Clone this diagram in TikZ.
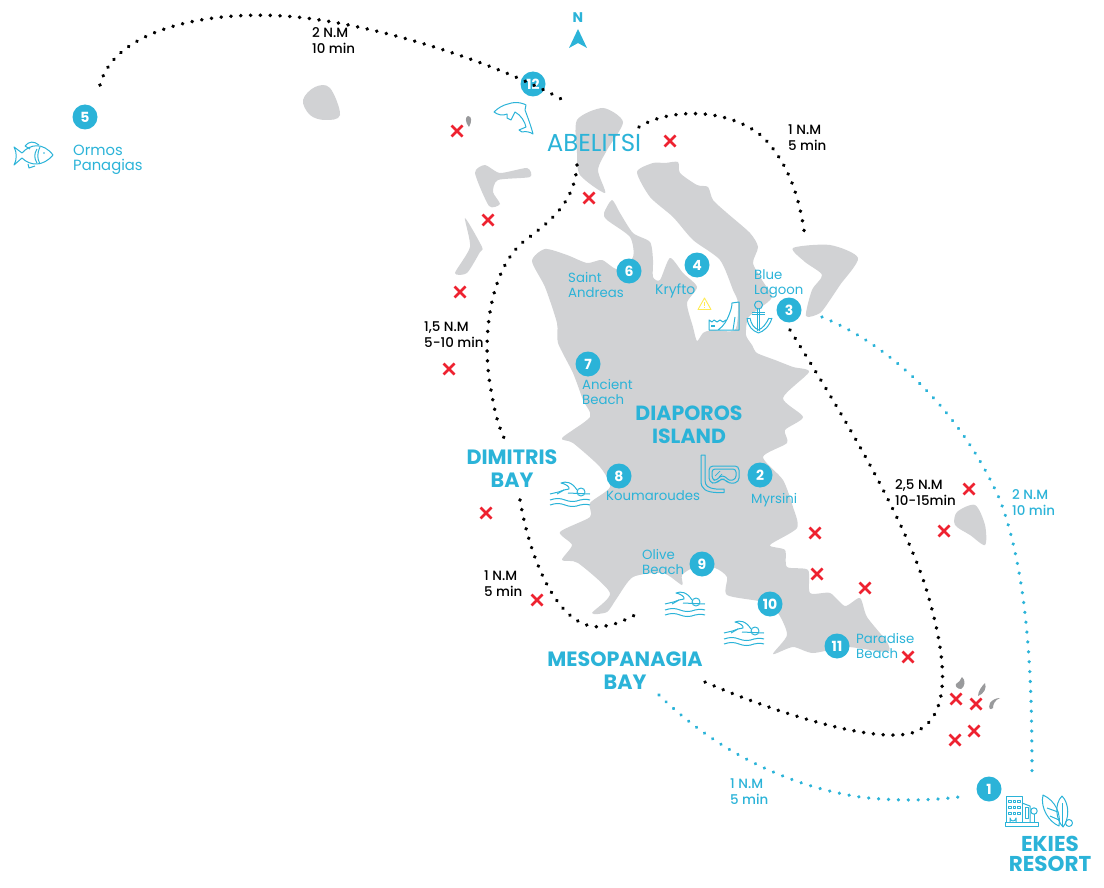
\documentclass[tikz,border=0pt]{standalone}
\usepackage{fontspec}
\setmainfont{Poppins}
\newfontfamily\medfont{Poppins Medium}
\usetikzlibrary{calc}
\definecolor{sea}{HTML}{2BB3D8}
\definecolor{land}{HTML}{D1D2D4}
\definecolor{rock}{HTML}{999A9C}
\definecolor{mark}{HTML}{EE2230}
\definecolor{warn}{HTML}{FFEB55}
\tikzset{
  landmass/.style={fill=land,draw=none},
  rockmass/.style={fill=rock,draw=none},
  routeblack/.style={draw=black,line width=3.9pt,line cap=round,dash pattern=on 0.01pt off 9.8pt},
  routeblue/.style={draw=sea,line width=3.6pt,line cap=round,dash pattern=on 0.01pt off 9.9pt},
  stop/.style={circle,fill=sea,minimum size=25pt,inner sep=0pt,text=white,font=\fontsize{14}{14}\selectfont\bfseries},
  place/.style={anchor=west,inner sep=0pt,align=left,text=sea,font=\fontsize{13.3}{14.3}\selectfont},
  dist/.style={anchor=west,inner sep=0pt,align=left,text=black,font=\medfont\fontsize{13.4}{16}\selectfont},
  distblue/.style={dist,text=sea},
  area/.style={anchor=center,inner sep=0pt,text=sea,font=\fontsize{20.7}{23}\selectfont\bfseries},
  ico/.style={draw=sea,line width=1pt,fill=none,line join=round},
  swimmericon/.pic={
    \draw[ico] (-20,-1) .. controls (-12,-3) and (-10,-3) .. (-6,-5) -- (-1,-6) .. controls (0,-8) and (-4,-11) .. (-9,-12) .. controls (-4,-14) and (2,-13) .. (7,-5);
    \draw[ico] (-6,-5) -- (-13,-1);
    \draw[ico] (11,-3) circle (4);
    \draw[ico] (-2,-2) -- (20,-1);
    \draw[ico] (-20,5) .. controls (-14,3) and (-10,3) .. (-5,5) .. controls (0,7) and (5,7) .. (10,5) .. controls (13,4) and (16,4) .. (20,5);
    \draw[ico] (-20,10) .. controls (-14,8) and (-10,8) .. (-5,10) .. controls (0,12) and (5,12) .. (10,10) .. controls (13,9) and (16,9) .. (20,10);
  },
  xmark/.pic={
    \draw[draw=mark,line width=2.8pt] (-5.5,-5.5) -- (5.5,5.5) (-5.5,5.5) -- (5.5,-5.5);
  }
}
\begin{document}
\begin{tikzpicture}[x=1pt,y=-1pt]
\useasboundingbox (0,0) rectangle (1104,888);
% --- main island ---
\fill[landmass] plot[smooth cycle,tension=0.42] coordinates {
(532,261)(545,249)(567,255)(587,263)(602,260)(617,269)(633,257)(630,237)(607,220)(604,213)(612,200)(620,213)(633,233)(650,242)(653,260)(653,277)(660,280)(670,258)(683,273)(697,287)(687,303)(693,327)(697,341)(703,333)(712,330)(735,330)(738,303)(733,290)(720,260)(693,240)(673,217)(650,197)(637,172)(653,163)(665,163)(678,162)(680,173)(697,185)(708,187)(713,200)(727,213)(750,233)(758,247)(753,263)(762,280)(772,297)(760,308)(748,318)(746,335)(752,345)(757,353)(775,360)(793,367)(809,372)(783,398)(803,417)(785,430)(787,443)(763,457)(783,480)(793,507)(797,528)(770,545)(785,550)(787,567)(808,570)(810,593)(830,593)(845,606)(860,598)(867,617)(887,642)(887,652)(847,647)(813,653)(793,647)(773,654)(787,635)(778,613)(763,602)(727,595)(727,577)(715,568)(695,567)(682,575)(682,585)(663,573)(633,577)(617,598)(607,612)(592,613)(610,593)(578,563)(562,560)(572,545)(560,532)(590,517)(590,503)(610,487)(600,467)(573,443)(562,438)(590,417)(583,400)(573,373)(558,343)(557,323)(545,287)};
% --- other islands ---
\fill[landmass] plot[smooth cycle,tension=0.45] coordinates {(577,120)(603,108)(623,122)(607,150)(598,170)(605,193)(580,175)(577,153)};
\fill[landmass] plot[smooth cycle,tension=0.4] coordinates {(475,173)(485,165)(500,173)(527,168)(530,177)(498,180)(493,192)(500,204)(489,206)};
\fill[landmass] plot[smooth cycle,tension=0.4] coordinates {(465,218)(482,247)(480,252)(467,273)(455,273)(470,247)};
\fill[landmass] plot[smooth cycle,tension=0.6] coordinates {(303,100)(315,87)(330,88)(340,115)(325,120)(310,115)};
\fill[landmass] plot[smooth cycle,tension=0.45] coordinates {(793,248)(830,245)(858,258)(840,285)(830,300)(820,313)(806,316)(812,290)(822,275)(805,262)};
\fill[landmass] plot[smooth cycle,tension=0.5] coordinates {(957,512)(975,505)(985,525)(985,545)(970,535)(955,525)};
% --- rocks ---
\fill[rockmass] (468,116) .. controls (472,116) and (472,122) .. (469,127) .. controls (465,122) and (465,117) .. (468,116) -- cycle;
\fill[rockmass] (962,677) .. controls (966,680) and (965,687) .. (961,689) .. controls (957,689) and (955,686) .. (956,684) .. controls (959,683) and (960,680) .. (962,677) -- cycle;
\fill[rockmass] (985,683) .. controls (987,688) and (984,694) .. (978,696) .. controls (978,691) and (982,686) .. (985,683) -- cycle;
\fill[rockmass] (1000,698) .. controls (995,700) and (993,704) .. (993,708) .. controls (990,711) and (988,708) .. (990,703) .. controls (992,700) and (996,698) .. (1000,698) -- cycle;
% --- route ends ---
\coordinate (r1a) at (100,85); \coordinate (r1b) at (563,100);
\coordinate (r2a) at (639,127); \coordinate (r2b) at (805,237);
\coordinate (r3a) at (577,165); \coordinate (r3b) at (505,440);
\coordinate (r4a) at (520,500); \coordinate (r4b) at (635,615);
\coordinate (r5a) at (790,330); \coordinate (r5b) at (705,682);
\coordinate (b1a) at (822,317); \coordinate (b1b) at (1032,777);
\coordinate (b2a) at (659,695); \coordinate (b2b) at (966,796);
% --- routes ---
\draw[routeblack] (r2a) .. controls (665,110) and (725,105) .. (763,137) .. controls (790,165) and (800,200) .. (r2b);
\draw[routeblack] (r3a) .. controls (575,205) and (545,225) .. (523,242) .. controls (490,270) and (480,340) .. (492,395) .. controls (495,415) and (500,430) .. (r3b);
\draw[routeblack] (r4a) .. controls (530,560) and (560,635) .. (605,626) .. controls (615,625) and (625,620) .. (r4b);
\draw[routeblack] (r5a) .. controls (840,410) and (900,510) .. (925,585) .. controls (945,650) and (955,715) .. (915,732) .. controls (880,745) and (780,715) .. (r5b);
\draw[routeblue] (b1a) .. controls (890,345) and (960,410) .. (1000,500) .. controls (1030,580) and (1032,690) .. (b1b);
\draw[routeblue] (b2a) .. controls (710,745) and (780,785) .. (860,797) .. controls (900,802) and (940,800) .. (b2b);
% --- stops ---
\node[stop] (s1) at (989,789) {1};
\node[stop] (s2) at (760,475) {2};
\node[stop] (s3) at (789,310) {3};
\node[stop] (s4) at (697,265) {4};
\node[stop] (s5) at (85,117) {5};
\node[stop] (s6) at (629,271) {6};
\node[stop] (s7) at (588,364) {7};
\node[stop] (s8) at (619,476) {8};
\node[stop] (s9) at (702,564) {9};
\node[stop] (s10) at (770,604) {10};
\node[stop] (s11) at (837,646) {11};
\node[stop] (s12) at (533,84) {12};
\draw[routeblack] (r1a) .. controls (115,25) and (225,5) .. (320,20) .. controls (400,32) and (500,65) .. (r1b);
% --- crosses ---
\foreach \px/\py in {457/131,670/141,589/198,488/220,460/292,449/369,486/513,537/600,815/533,817/574,865/588,908/657,969/489,944/531,956/699,976/704,974/731,955/740}
  \pic at (\px,\py) {xmark};
% --- labels ---
\node[place,font=\fontsize{14.8}{15}\selectfont] (lbO) at (73,159.5) {Ormos\\Panagias};
\node[place] (lbS) at (568,285) {Saint\\Andreas};
\node[place,font=\fontsize{14}{14}\selectfont] (lbK) at (655,291) {Kryfto};
\node[place] (lbB) at (754,284) {Blue\\Lagoon};
\node[place] (lbA) at (582,392) {Ancient\\Beach};
\node[place] (lbKo) at (606,496) {Koumaroudes};
\node[place] (lbM) at (751,500) {Myrsini};
\node[place] (lbOl) at (642,562) {Olive\\Beach};
\node[place] (lbP) at (856,646) {Paradise\\Beach};
\node[anchor=center,inner sep=0pt,text=sea,font=\fontsize{24.5}{25}\selectfont] (lbAb) at (594,143) {ABELITSI};
\node[area] (lbDi1) at (512,457) {DIMITRIS};
\node[area] (lbDi2) at (512,480) {BAY};
\node[area,align=center,font=\fontsize{20.5}{23}\selectfont\bfseries] (lbDia) at (689,424.5) {DIAPOROS\\ISLAND};
\node[area] (lbMe1) at (625,659) {MESOPANAGIA};
\node[area] (lbMe2) at (625,682) {BAY};
\node[area,align=center,font=\fontsize{21.5}{20}\selectfont\bfseries] (lbEk) at (1050,854) {EKIES\\RESORT};
\node[dist] (d1) at (312,41) {2 N.M\\10 min};
\node[dist] (d2) at (788,138) {1 N.M\\5 min};
\node[dist] (d3) at (424,335) {1,5 N.M\\5-10 min};
\node[dist] (d4) at (484,584) {1 N.M\\5 min};
\node[dist] (d5) at (895,492.5) {2,5 N.M\\10-15min};
\node[distblue] (d6) at (1012,503) {2 N.M\\10 min};
\node[distblue] (d7) at (730,792) {1 N.M\\5 min};
% --- north arrow ---
\node[anchor=center,inner sep=0pt,text=sea,font=\fontsize{14}{14}\selectfont\bfseries] (north) at (578,18) {N};
\fill[sea] (578,29) -- (587,48) -- (578,43) -- (569,48) -- cycle;
% --- swimmers ---
\pic at (570,495) {swimmericon};
\pic at (685,605) {swimmericon};
\pic at (744,634) {swimmericon};
% --- warning ---
\draw[draw=warn,line width=0.9pt,line join=round] (704.5,298) -- (711,309.5) -- (698,309.5) -- cycle;
\draw[draw=warn,line width=0.9pt] (704.5,302) -- (704.5,306) (704.5,307.3) -- (704.5,308);
% --- cliff ---
\draw[ico] (709,330) -- (739,330) -- (739,302) -- (732,303) .. controls (732,308) and (730,312) .. (729,315) .. controls (727,320) and (724,326) .. (718,330);
\draw[ico] (709,330) -- (709,320) -- (712,322) -- (714,320) -- (717,322) -- (720,320) -- (723,322) -- (726,320);
\draw[ico] (735,317) -- (733,330);
\draw[ico,line width=1.6pt] (711,326) -- (715,326);
% --- anchor ---
\draw[ico] (758.5,305) circle (4);
\draw[ico] (757.3,309) -- (757.3,331) (759.7,309) -- (759.7,331);
\draw[ico] (752,312) -- (765,312) (752,314) -- (765,314);
\draw[ico] (747,318) .. controls (748,327) and (753,331) .. (758.5,333) .. controls (764,331) and (769,327) .. (772,318);
\draw[ico] (750,318) .. controls (751,324) and (754,328) .. (758.5,330) .. controls (763,328) and (766,324) .. (769,318);
\draw[ico] (747,318) -- (750,318) (769,318) -- (772,318);
% --- snorkel ---
\draw[ico] (701,455) -- (705,455) -- (705,480) .. controls (705,486) and (708,488) .. (716,489);
\draw[ico] (701,455) -- (701,481) .. controls (701,489) and (706,492) .. (716,492.5) -- (724,492.5) -- (724,489) -- (716,489);
\draw[ico,rounded corners=4pt] (709,466) -- (739,466) -- (739,482) -- (729,484) -- (725,479) -- (720,479) -- (716,484) -- (709,482) -- cycle;
\draw[ico,rounded corners=3pt] (712,469) -- (736,469) -- (736,479) -- (729,481) -- (725,476) -- (720,476) -- (716,481) -- (712,479) -- cycle;
\draw[ico,line width=0.7pt] (715,476) -- (720,471) (719,477) -- (722,474);
% --- dolphin ---
\draw[ico] (494,112) .. controls (498,108) and (503,105) .. (508,104) .. controls (513,102) and (519,102) .. (524,104) -- (526,105) -- (525,110) .. controls (528,118) and (531,126) .. (533,134) .. controls (530,132) and (526,131) .. (522,132) -- (519,130) -- (526,127) .. controls (525,122) and (521,115) .. (515,112) -- (511,120) -- (507,118) -- (507,114) .. controls (503,116) and (498,115) .. (494,112) -- cycle;
% --- fish ---
\draw[ico] (22,153) .. controls (30,144) and (43,142) .. (53,155) .. controls (43,167) and (30,166) .. (22,158) -- (14,165) .. controls (17,160) and (17,152) .. (14,147) -- cycle;
\draw[ico] (25,146) .. controls (29,141) and (34,141) .. (39,145);
\draw[ico] (25,146) -- (30,149);
\draw[ico] (28,164) -- (29,168) -- (35,166);
\draw[ico] (37,149) .. controls (34,154) and (34,158) .. (37,163);
\draw[ico] (40,147) .. controls (37,154) and (37,158) .. (40,164);
\fill[sea] (44,153) circle (0.9);
% --- hotel ---
\draw[ico] (1006,822) -- (1006,796) -- (1022,796) -- (1022,822);
\draw[ico] (1022,803) -- (1030,806) -- (1030,822);
\draw[ico] (1005,822) rectangle (1038,826);
\draw[ico] (1025,807) rectangle (1028,818);
\draw[ico] (1034,811) circle (3.2);
\draw[ico] (1034,814) -- (1034,822);
\foreach \wx in {1008.5,1013,1017.5} \foreach \wy in {800,806,812} \draw[ico,line width=0.7pt] (\wx,\wy) rectangle +(2.6,2.6);
\draw[ico] (1010,822) -- (1010,818) arc[start angle=180,end angle=0,radius=3] -- (1016,822);
% --- surfboards ---
\draw[ico] (1043,795) .. controls (1056,801) and (1061,814) .. (1059,826) .. controls (1049,822) and (1040,808) .. (1043,795) -- cycle;
\draw[ico] (1047,808) -- (1058,812) (1050,816) -- (1059,820);
\draw[ico] (1062,796) .. controls (1070,804) and (1069,820) .. (1063,827) .. controls (1056,820) and (1054,804) .. (1062,796) -- cycle;
\draw[ico] (1062,803) -- (1062,826);
\draw[ico] (1069,823) circle (3.5);
\end{tikzpicture}
\end{document}
